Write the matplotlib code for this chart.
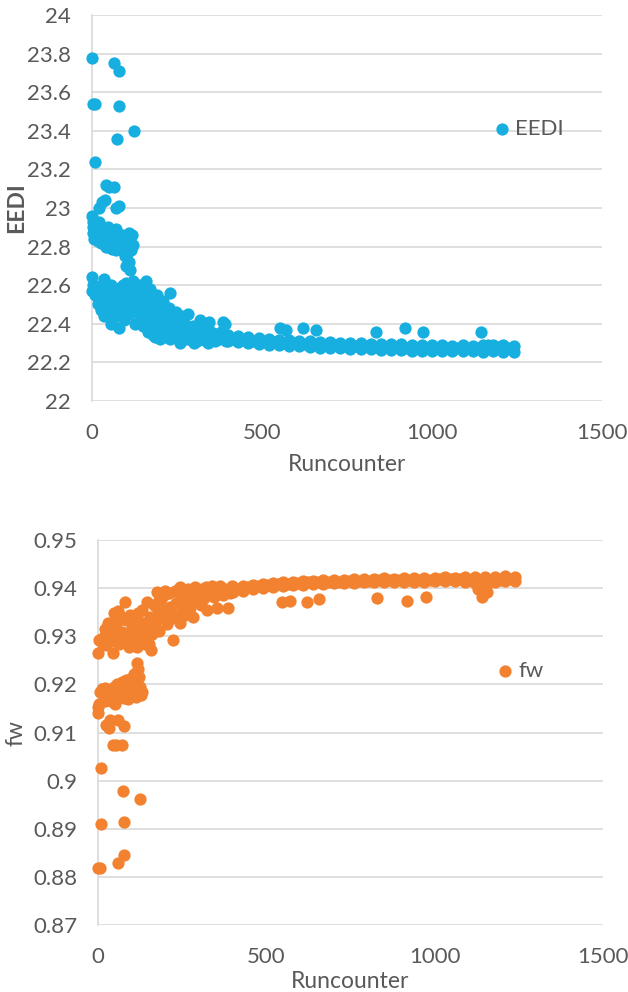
import matplotlib
matplotlib.use("Agg")
import matplotlib.pyplot as plt

plt.rcParams['font.family'] = ['Lato', 'DejaVu Sans']

# ---- EEDI vs Runcounter (top panel) ----
# early high outliers
eedi_out_run = [0, 3, 10, 65, 80, 80, 75, 125, 10, 40, 50, 65, 20, 30, 38, 70, 78]
eedi_out_val = [23.78, 23.54, 23.54, 23.75, 23.71, 23.53, 23.36, 23.40, 23.24, 23.12,
                23.11, 23.11, 23.00, 23.03, 23.04, 23.00, 23.01]

# upper early cluster (~22.7 - 22.96)
eedi_up_run = [0, 2, 4, 3, 6, 12, 15, 22, 25, 18,
               30, 35, 42, 48, 55, 60, 62, 50, 58, 68,
               72, 78, 82, 88, 92, 96, 100, 104, 110, 118,
               120, 115, 105, 98, 108, 112, 100, 70, 40, 25]
eedi_up_val = [22.96, 22.93, 22.90, 22.87, 22.84, 22.86, 22.90, 22.93, 22.87, 22.83,
               22.85, 22.82, 22.88, 22.90, 22.88, 22.86, 22.83, 22.80, 22.79, 22.84,
               22.89, 22.82, 22.79, 22.86, 22.83, 22.80, 22.86, 22.84, 22.87, 22.86,
               22.81, 22.78, 22.77, 22.75, 22.72, 22.68, 22.70, 22.78, 22.80, 22.82]

# lower early band and decay, runs 0 - 400
eedi_mid_run = [0, 0, 3, 8, 12, 18, 22, 28, 35, 40,
                45, 48, 52, 55, 60, 62, 66, 70, 75, 80,
                82, 86, 90, 95, 98, 102, 106, 110, 114, 118,
                122, 126, 130, 134, 138, 142, 146, 150, 92, 100,
                120, 25, 35, 55,
                152, 155, 158, 160, 163, 166, 170, 173, 176, 180,
                183, 186, 190, 194, 198, 202, 206, 210, 214, 218,
                222, 226, 229, 232, 236, 240, 244, 248, 170, 190,
                210, 200, 185, 230,
                252, 256, 260, 265, 270, 275, 280, 283, 288, 292,
                298, 303, 308, 312, 317, 322, 328, 334, 340, 345,
                350, 356, 362, 368, 375, 380, 385, 391, 395, 260,
                300, 340]
eedi_mid_val = [22.64, 22.57, 22.60, 22.55, 22.58, 22.50, 22.54, 22.60, 22.63, 22.58,
                22.48, 22.53, 22.46, 22.60, 22.55, 22.43, 22.50, 22.57, 22.45, 22.38,
                22.52, 22.59, 22.48, 22.42, 22.55, 22.50, 22.60, 22.45, 22.53, 22.58,
                22.47, 22.40, 22.55, 22.50, 22.60, 22.44, 22.52, 22.39, 22.60, 22.61,
                22.62, 22.47, 22.44, 22.40,
                22.57, 22.48, 22.42, 22.62, 22.54, 22.36, 22.46, 22.52, 22.40, 22.34,
                22.50, 22.44, 22.38, 22.47, 22.35, 22.42, 22.50, 22.37, 22.45, 22.33,
                22.40, 22.48, 22.56, 22.36, 22.43, 22.34, 22.39, 22.46, 22.58, 22.55,
                22.52, 22.32, 22.33, 22.32,
                22.33, 22.41, 22.37, 22.44, 22.34, 22.40, 22.32, 22.45, 22.37, 22.33,
                22.39, 22.35, 22.31, 22.37, 22.42, 22.33, 22.36, 22.31, 22.38, 22.41,
                22.33, 22.35, 22.31, 22.34, 22.32, 22.36, 22.41, 22.40, 22.31, 22.30,
                22.30, 22.30]

# converged tail, runs 400 - 1240
tail_run = [400, 430, 460, 490, 520, 550, 580, 610, 640, 670,
            700, 730, 760, 790, 820, 850, 880, 910, 940, 970,
            1000, 1030, 1060, 1090, 1120, 1150, 1180, 1210, 1240]
tail_mid_run = [415, 445, 475, 505, 535, 565, 595, 625, 655, 685,
                715, 745, 775, 805, 835, 865, 895, 925, 955, 985,
                1015, 1045, 1075, 1105, 1135, 1165, 1195, 1225]
eedi_tail_hi = [22.340, 22.337, 22.330, 22.328, 22.320, 22.318, 22.316, 22.310, 22.312, 22.306,
                22.305, 22.302, 22.303, 22.298, 22.297, 22.296, 22.293, 22.294, 22.290, 22.291,
                22.288, 22.289, 22.287, 22.288, 22.286, 22.290, 22.292, 22.288, 22.285]
eedi_tail_lo = [22.310, 22.305, 22.301, 22.297, 22.292, 22.289, 22.285, 22.283, 22.280, 22.277,
                22.276, 22.273, 22.271, 22.270, 22.267, 22.266, 22.264, 22.263, 22.260, 22.261,
                22.259, 22.258, 22.259, 22.257, 22.258, 22.256, 22.257, 22.255, 22.256]
eedi_tail_mid = [22.322, 22.318, 22.313, 22.309, 22.305, 22.301, 22.298, 22.296, 22.293, 22.291,
                 22.289, 22.287, 22.285, 22.283, 22.281, 22.279, 22.278, 22.277, 22.275, 22.274,
                 22.273, 22.273, 22.272, 22.272, 22.275, 22.290, 22.282, 22.272]
eedi_late_run = [553, 570, 621, 660, 835, 920, 975, 1145]
eedi_late_val = [22.38, 22.37, 22.38, 22.37, 22.36, 22.38, 22.36, 22.36]

# ---- fw vs Runcounter (bottom panel) ----
fw_out_run = [1, 5, 9, 9, 60, 78, 77, 75, 125, 45, 55, 70, 32, 37, 25, 60, 77, 0, 0, 3]
fw_out_val = [0.8818, 0.8818, 0.8910, 0.9027, 0.8829, 0.8845, 0.8915, 0.8978, 0.8962, 0.9074,
              0.9074, 0.9074, 0.9110, 0.9126, 0.9115, 0.9126, 0.9114, 0.9140, 0.9153, 0.9160]

fw_lo_run = [6, 12, 18, 22, 28, 32, 38, 44, 48, 52,
             56, 60, 65, 70, 74, 78, 82, 86, 90, 95,
             100, 104, 108, 112, 115, 118, 122, 126, 128, 132,
             20, 50, 90, 110]
fw_lo_val = [0.9185, 0.9190, 0.9178, 0.9192, 0.9172, 0.9188, 0.9165, 0.9180, 0.9195, 0.9168,
             0.9201, 0.9185, 0.9175, 0.9205, 0.9190, 0.9172, 0.9210, 0.9196, 0.9182, 0.9212,
             0.9200, 0.9188, 0.9222, 0.9175, 0.9244, 0.9232, 0.9215, 0.9195, 0.9178, 0.9185,
             0.9165, 0.9160, 0.9170, 0.9200]

fw_mid_run = [0, 2, 8, 14, 18, 24, 30, 34, 38, 45,
              47, 50, 55, 58, 62, 66, 70, 74, 80, 84,
              88, 92, 96, 100, 104, 108, 112, 116, 120, 124,
              128, 132, 136, 140, 145, 148, 152, 155, 159, 162,
              20, 40, 60, 100, 120, 140,
              165, 170, 174, 178, 182, 186, 190, 195, 200, 205,
              210, 215, 220, 223, 228, 232, 236, 240, 243, 243,
              248, 252, 258, 262, 268, 272, 278, 283, 288, 292,
              298, 305, 310, 316, 322, 325, 330, 338, 345, 352,
              355, 362, 370, 378, 387, 392, 398, 180, 200, 260]
fw_mid_val = [0.9266, 0.9292, 0.9295, 0.9285, 0.9298, 0.9282, 0.9327, 0.9305, 0.9290, 0.9265,
              0.9348, 0.9318, 0.9298, 0.9330, 0.9285, 0.9342, 0.9310, 0.9290, 0.9372, 0.9335,
              0.9302, 0.9278, 0.9345, 0.9318, 0.9292, 0.9335, 0.9310, 0.9278, 0.9348, 0.9320,
              0.9295, 0.9355, 0.9328, 0.9302, 0.9372, 0.9318, 0.9285, 0.9340, 0.9271, 0.9305,
              0.9315, 0.9325, 0.9352, 0.9285, 0.9282, 0.9285,
              0.9365, 0.9328, 0.9393, 0.9350, 0.9312, 0.9378, 0.9340, 0.9385, 0.9355, 0.9325,
              0.9390, 0.9362, 0.9338, 0.9292, 0.9395, 0.9370, 0.9345, 0.9398, 0.9403, 0.9327,
              0.9380, 0.9355, 0.9392, 0.9372, 0.9398, 0.9360, 0.9385, 0.9341, 0.9402, 0.9375,
              0.9392, 0.9365, 0.9398, 0.9380, 0.9402, 0.9355, 0.9388, 0.9404, 0.9382, 0.9395,
              0.9360, 0.9405, 0.9385, 0.9398, 0.9359, 0.9390, 0.9405, 0.9375, 0.9395, 0.9345]

fw_tail_hi = [0.9403, 0.9405, 0.9406, 0.9409, 0.9411, 0.9412, 0.9414, 0.9415, 0.9416, 0.9417,
              0.9418, 0.9418, 0.9419, 0.9420, 0.9420, 0.9421, 0.9420, 0.9421, 0.9422, 0.9421,
              0.9422, 0.9423, 0.9422, 0.9423, 0.9423, 0.9424, 0.9424, 0.9425, 0.9424]
fw_tail_lo = [0.9392, 0.9395, 0.9398, 0.9401, 0.9403, 0.9405, 0.9406, 0.9407, 0.9408, 0.9409,
              0.9410, 0.9410, 0.9411, 0.9412, 0.9412, 0.9413, 0.9413, 0.9414, 0.9414, 0.9414,
              0.9415, 0.9415, 0.9415, 0.9414, 0.9411, 0.9410, 0.9413, 0.9415, 0.9416]
fw_tail_mid = [0.9399, 0.9402, 0.9404, 0.9406, 0.9408, 0.9409, 0.9411, 0.9412, 0.9413, 0.9413,
               0.9414, 0.9415, 0.9415, 0.9416, 0.9417, 0.9417, 0.9417, 0.9418, 0.9418, 0.9418,
               0.9419, 0.9419, 0.9419, 0.9418, 0.9405, 0.9412, 0.9417, 0.9419]
fw_late_run = [546, 570, 620, 657, 828, 918, 974, 1141, 1150, 1130, 1155]
fw_late_val = [0.9372, 0.9373, 0.9372, 0.9377, 0.9379, 0.9373, 0.9381, 0.9382, 0.9393, 0.9398, 0.9393]

x_ticks = [0, 500, 1000, 1500]
eedi_ticks = [22, 22.2, 22.4, 22.6, 22.8, 23, 23.2, 23.4, 23.6, 23.8, 24]
eedi_tick_labels = ['22', '22.2', '22.4', '22.6', '22.8', '23', '23.2', '23.4', '23.6', '23.8', '24']
fw_ticks = [0.87, 0.88, 0.89, 0.90, 0.91, 0.92, 0.93, 0.94, 0.95]
fw_tick_labels = ['0.87', '0.88', '0.89', '0.9', '0.91', '0.92', '0.93', '0.94', '0.95']

eedi_run = eedi_out_run + eedi_up_run + eedi_mid_run + tail_run + tail_mid_run + tail_run + eedi_late_run
eedi_val = eedi_out_val + eedi_up_val + eedi_mid_val + eedi_tail_hi + eedi_tail_mid + eedi_tail_lo + eedi_late_val
fw_run = fw_out_run + fw_lo_run + fw_mid_run + tail_run + tail_mid_run + tail_run + fw_late_run
fw_val = fw_out_val + fw_lo_val + fw_mid_val + fw_tail_hi + fw_tail_mid + fw_tail_lo + fw_late_val

BLUE = '#17AEE0'
ORANGE = '#F2822F'
GRID = '#D9D9D9'
TXT = '#595959'


def style_axes(ax, ticks, labels, ylim):
    ax.set_xlim(0, 1500)
    ax.set_ylim(*ylim)
    ax.set_xticks(x_ticks)
    ax.set_yticks(ticks)
    ax.set_yticklabels(labels)
    for s in ['top', 'right', 'bottom']:
        ax.spines[s].set_visible(False)
    ax.spines['left'].set_color(GRID)
    ax.spines['left'].set_linewidth(1.2)
    ax.grid(axis='y', color=GRID, linewidth=1.2)
    ax.set_axisbelow(True)
    ax.tick_params(axis='both', length=0, labelsize=16, labelcolor=TXT)
    ax.tick_params(axis='y', pad=15)
    ax.tick_params(axis='x', pad=16)


fig = plt.figure(figsize=(6.28, 9.92), dpi=100)

ax1 = fig.add_axes([0.1465, 0.5958, 0.812, 0.389])
ax1.scatter(eedi_run, eedi_val, s=78, color=BLUE, linewidths=0, label='EEDI', clip_on=False, zorder=3)
style_axes(ax1, eedi_ticks, eedi_tick_labels, (22, 24))
ax1.set_xlabel('Runcounter', fontsize=16.5, color=TXT, labelpad=8)
ax1.set_ylabel('EEDI', fontsize=16.5, color=TXT, fontweight='bold')
ax1.yaxis.set_label_coords(-0.128, 0.5)
ax1.legend(loc='center left', bbox_to_anchor=(0.786, 0.705), frameon=False, fontsize=16,
           handlelength=0.8, handletextpad=0.2, borderpad=0, borderaxespad=0, labelcolor=TXT)

ax2 = fig.add_axes([0.156, 0.0675, 0.804, 0.388])
ax2.scatter(fw_run, fw_val, s=78, color=ORANGE, linewidths=0, label='fw', clip_on=False, zorder=3)
style_axes(ax2, fw_ticks, fw_tick_labels, (0.87, 0.95))
ax2.set_xlabel('Runcounter', fontsize=16.5, color=TXT, labelpad=3)
ax2.set_ylabel('fw', fontsize=16.5, color=TXT)
ax2.yaxis.set_label_coords(-0.142, 0.5)
ax2.legend(loc='center left', bbox_to_anchor=(0.788, 0.66), frameon=False, fontsize=16,
           handlelength=0.8, handletextpad=0.2, borderpad=0, borderaxespad=0, labelcolor=TXT)

fig.savefig('out.png', dpi=100)
